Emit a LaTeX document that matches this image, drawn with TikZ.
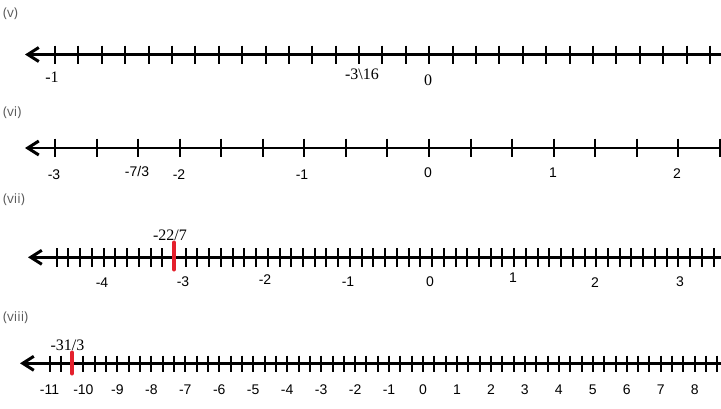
\documentclass[tikz,border=0pt]{standalone}
\usepackage{fontspec}
\setmainfont{Liberation Serif}
\setsansfont{Liberation Sans}
\newfontfamily\headfont{Open Sans}
\usetikzlibrary{arrows.meta}
\definecolor{headgray}{RGB}{90,90,90}
\definecolor{markred}{RGB}{228,32,44}
\tikzset{
  axisline/.style={line width=2.5pt, black, {Straight Barb[length=11pt,width=14pt,line width=3pt]}-},
  tickmark/.style={line width=2pt, black},
  redmark/.style={line width=4pt, markred, line cap=round},
  heading/.style={anchor=west, font=\headfont\fontsize{13.5}{15}\selectfont, text=headgray, inner sep=0pt},
  seriflabel/.style={font=\fontsize{16}{18}\selectfont, inner sep=0pt},
  sanslabel/.style={font=\sffamily\fontsize{14}{16}\selectfont, inner sep=0pt}
}
\begin{document}
\begin{tikzpicture}[x=1pt,y=-1pt]
\useasboundingbox (0,0) rectangle (721,408);
% ---------------- (v)
\node[heading] (hv) at (3,14) {(v)};
\coordinate (v-tip) at (25,54.5);
\coordinate (v-end) at (721,54.5);
\draw[axisline] (v-tip) -- (v-end);
\foreach \k in {0,...,28} {\pgfmathsetmacro\xx{round(55+23.39*\k)}\draw[tickmark] (\xx,45.5) -- (\xx,63.5);}
\node[seriflabel] (v-m1) at (52,77) {-1};
\node[seriflabel] (v-m316) at (362,74) {-3\textbackslash 16};
\node[seriflabel] (v-0) at (428,80) {0};
% ---------------- (vi)
\node[heading] (hvi) at (3,113) {(vi)};
\coordinate (vi-tip) at (25,148);
\coordinate (vi-end) at (721,148);
\draw[axisline] (vi-tip) -- (vi-end);
\foreach \k in {0,...,16} {\pgfmathsetmacro\xx{round(55+41.56*\k)}\draw[tickmark] (\xx,138.5) -- (\xx,157);}
\node[sanslabel] (vi-m3) at (54,174.5) {-3};
\node[sanslabel] (vi-m73) at (137,171.7) {-7/3};
\node[sanslabel] (vi-m2) at (179,174.5) {-2};
\node[sanslabel] (vi-m1) at (302,174.5) {-1};
\node[sanslabel] (vi-0) at (428,173) {0};
\node[sanslabel] (vi-1) at (553,173) {1};
\node[sanslabel] (vi-2) at (677,174) {2};
% ---------------- (vii)
\node[heading] (hvii) at (3,200) {(vii)};
\coordinate (vii-tip) at (28,257.3);
\coordinate (vii-end) at (721,257.3);
\draw[axisline] (vii-tip) -- (vii-end);
\foreach \k in {0,...,56} {\pgfmathsetmacro\xx{round(56.7+11.73*\k)}\draw[tickmark] (\xx,248.3) -- (\xx,266.7);}
\coordinate (vii-rtop) at (174,242.5);
\coordinate (vii-rbot) at (174,269.5);
\draw[redmark] (vii-rtop) -- (vii-rbot);
\node[seriflabel] (vii-m227) at (170,235) {-22/7};
\node[sanslabel] (vii-m4) at (102,283) {-4};
\node[sanslabel] (vii-m3) at (183,282) {-3};
\node[sanslabel] (vii-m2) at (265,280) {-2};
\node[sanslabel] (vii-m1) at (348,282) {-1};
\node[sanslabel] (vii-0) at (430,282) {0};
\node[sanslabel] (vii-1) at (513,278) {1};
\node[sanslabel] (vii-2) at (595,283) {2};
\node[sanslabel] (vii-3) at (680,282) {3};
% ---------------- (viii)
\node[heading] (hviii) at (3,318) {(viii)};
\coordinate (viii-tip) at (20,363.3);
\coordinate (viii-end) at (721,363.3);
\draw[axisline] (viii-tip) -- (viii-end);
\foreach \k in {0,...,59} {\pgfmathsetmacro\xx{round(49.5+11.32*\k)}\draw[tickmark] (\xx,355.5) -- (\xx,371.5);}
\coordinate (viii-rtop) at (72,352.5);
\coordinate (viii-rbot) at (72,373.5);
\draw[redmark] (viii-rtop) -- (viii-rbot);
\node[seriflabel] (viii-m313) at (67.5,345) {-31/3};
\foreach \n in {-11,...,8} {\node[sanslabel] (viii-\n) at ({423+33.96*\n},390) {\n};}
\end{tikzpicture}
\end{document}
